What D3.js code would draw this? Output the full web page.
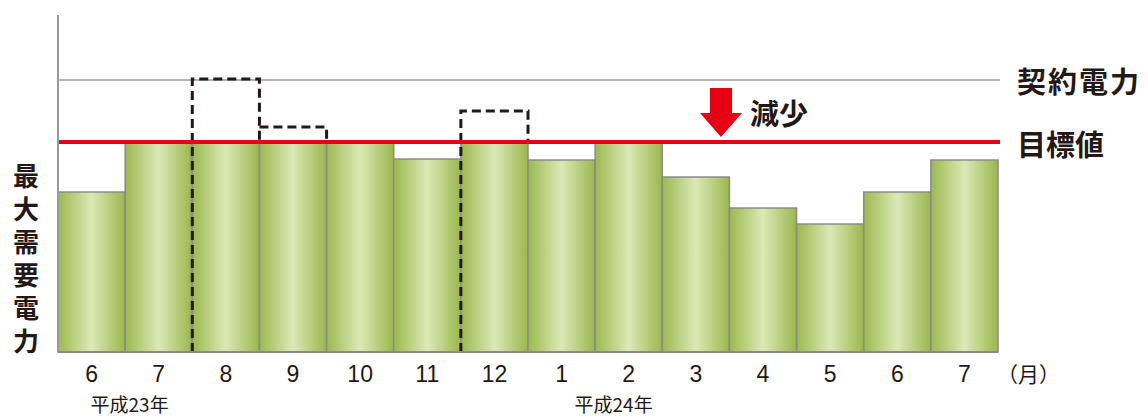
<!DOCTYPE html>
<html>
<head>
<meta charset="utf-8">
<script src="https://cdn.jsdelivr.net/npm/d3@7"></script>
<style>
  body { margin: 0; background: #fff; }
  svg { display: block; }
</style>
</head>
<body>
<div id="chart"></div>
<script>
// months on the x axis (H23/6 .. H24/7)
var months = ["6", "7", "8", "9", "10", "11", "12", "1", "2", "3", "4", "5", "6", "7"];
// max demand, drawn bars (capped at target)
var demand = [160, 209, 209, 209, 209, 193, 209, 192, 209, 175, 144, 128, 160, 192];
// original demand before reduction (dashed outline), null = no dashed box
var before = [null, null, 273, 225, null, null, 241, null, null, null, null, null, null, null];
var contractValue = 272;
var targetValue = 209;
var yearLabels = [{ i: 0, dx: -1, text: "平成23年" }, { i: 7, dx: 13, text: "平成24年" }];
var yLabel = "最大需要電力";

function init() {
    var w = 1148, h = 418;
    var left = 58, right = 998, base = 352, top = 12;

    var svg = d3.select("#chart").append("svg")
        .attr("width", w)
        .attr("height", h);

    var xScale = d3.scaleBand()
        .domain(d3.range(months.length))
        .range([left, right])
        .padding(0);

    var yScale = d3.scaleLinear()
        .domain([0, 340])
        .range([base, top]);

    var bw = xScale.bandwidth();

    // bar gradient
    var grad = svg.append("defs").append("linearGradient")
        .attr("id", "barGrad")
        .attr("x1", "0").attr("x2", "1").attr("y1", "0").attr("y2", "0");
    grad.append("stop").attr("offset", "0").attr("stop-color", "#9bb94f");
    grad.append("stop").attr("offset", "0.5").attr("stop-color", "#dbe9b6");
    grad.append("stop").attr("offset", "1").attr("stop-color", "#9ab74c");

    // contract line
    svg.append("line")
        .attr("x1", left).attr("x2", right + 2)
        .attr("y1", yScale(contractValue)).attr("y2", yScale(contractValue))
        .attr("stroke", "#9a9a9a")
        .attr("stroke-width", 1.5);

    // bars
    svg.selectAll("rect.bar")
        .data(demand)
        .enter()
        .append("rect")
        .attr("class", "bar")
        .attr("x", function(d, i) { return xScale(i); })
        .attr("y", function(d) { return yScale(d); })
        .attr("width", bw)
        .attr("height", function(d) { return base - yScale(d); })
        .attr("fill", "url(#barGrad)")
        .attr("stroke", "#8a8a8a")
        .attr("stroke-width", 1.5);

    // dashed boxes for original demand
    svg.selectAll("path.before")
        .data(before.map(function(d, i) { return { v: d, i: i }; })
            .filter(function(d) { return d.v !== null; }))
        .enter()
        .append("path")
        .attr("class", "before")
        .attr("d", function(d) {
            var x0 = xScale(d.i), x1 = x0 + bw, y = yScale(d.v);
            var prev = before[d.i - 1];
            var p = d3.path();
            if (prev === null || prev === undefined) {
                p.moveTo(x0, base);
                p.lineTo(x0, y);
            } else {
                p.moveTo(x0, y);
            }
            p.lineTo(x1, y);
            p.lineTo(x1, yScale(targetValue));
            return p.toString();
        })
        .attr("fill", "none")
        .attr("stroke", "#231815")
        .attr("stroke-width", 3)
        .attr("stroke-dasharray", "9,5");

    // target line
    svg.append("line")
        .attr("x1", left).attr("x2", right + 2)
        .attr("y1", yScale(targetValue) - 1).attr("y2", yScale(targetValue) - 1)
        .attr("stroke", "#e60012")
        .attr("stroke-width", 4);

    // y axis line
    svg.append("line")
        .attr("x1", left).attr("x2", left)
        .attr("y1", 15).attr("y2", base)
        .attr("stroke", "#9a9a9a")
        .attr("stroke-width", 2);

    // baseline
    svg.append("line")
        .attr("x1", left).attr("x2", right)
        .attr("y1", base).attr("y2", base)
        .attr("stroke", "#8a8a8a")
        .attr("stroke-width", 2);

    // x tick labels
    svg.selectAll("text.tick")
        .data(months)
        .enter()
        .append("text")
        .attr("class", "tick")
        .attr("x", function(d, i) { return xScale(i) + bw / 2; })
        .attr("y", 382)
        .attr("text-anchor", "middle")
        .attr("font-family", "Liberation Sans, Arial, sans-serif")
        .attr("font-size", "23px")
        .attr("fill", "#231815")
        .text(function(d) { return d; });

    svg.append("text")
        .attr("x", 997)
        .attr("y", 382)
        .attr("font-family", "Noto Sans CJK JP")
        .attr("font-size", "21px")
        .attr("fill", "#231815")
        .text("（月）");

    svg.selectAll("text.year")
        .data(yearLabels)
        .enter()
        .append("text")
        .attr("class", "year")
        .attr("x", function(d) { return xScale(d.i) + bw / 2 + d.dx; })
        .attr("y", 412)
        .attr("font-family", "Noto Sans CJK JP")
        .attr("font-size", "19px")
        .attr("fill", "#231815")
        .text(function(d) { return d.text; });

    // y label, written vertically
    svg.append("text")
        .attr("x", 26)
        .attr("y", 163)
        .attr("writing-mode", "vertical-rl")
        .attr("letter-spacing", "7px")
        .attr("font-family", "Noto Sans CJK JP")
        .attr("font-weight", "bold")
        .attr("font-size", "26px")
        .attr("fill", "#231815")
        .text(yLabel);

    // right labels
    svg.append("text")
        .attr("x", 1017)
        .attr("y", yScale(contractValue))
        .attr("dominant-baseline", "central")
        .attr("font-family", "Noto Sans CJK JP")
        .attr("font-weight", "bold")
        .attr("font-size", "29px")
        .attr("letter-spacing", "2px")
        .attr("fill", "#231815")
        .text("契約電力");

    svg.append("text")
        .attr("x", 1017)
        .attr("y", yScale(targetValue))
        .attr("dominant-baseline", "central")
        .attr("font-family", "Noto Sans CJK JP")
        .attr("font-weight", "bold")
        .attr("font-size", "29px")
        .attr("fill", "#231815")
        .text("目標値");

    // reduction arrow
    var ax = 721, aTop = 88, aBot = yScale(targetValue) - 6;
    svg.append("path")
        .attr("d", "M" + (ax - 11) + "," + aTop + "H" + (ax + 11) + "V" + (aTop + 25) +
            "H" + (ax + 21) + "L" + ax + "," + aBot + "L" + (ax - 21) + "," + (aTop + 25) +
            "H" + (ax - 11) + "Z")
        .attr("fill", "#e60012");

    svg.append("text")
        .attr("x", 750)
        .attr("y", 112)
        .attr("dominant-baseline", "central")
        .attr("font-family", "Noto Sans CJK JP")
        .attr("font-weight", "bold")
        .attr("font-size", "29px")
        .attr("fill", "#231815")
        .text("減少");
}
window.onload = init;
</script>
</body>
</html>
